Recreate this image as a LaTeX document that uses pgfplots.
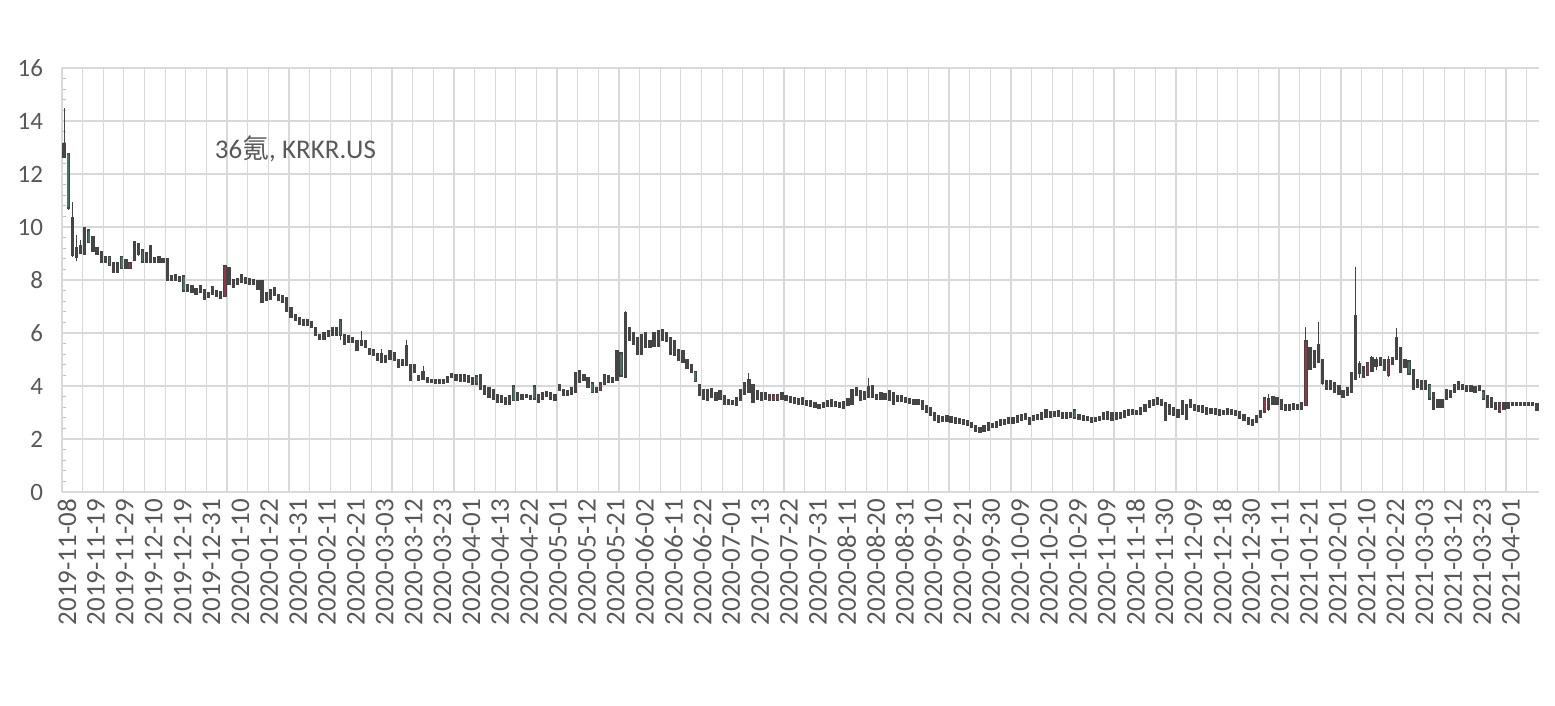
\documentclass[border=0pt]{standalone}
\usepackage{fontspec}
\setmainfont{Carlito}
\newfontfamily\cjk{Noto Sans CJK SC}
\usepackage{pgfplots}
\usepackage{pgfplotstable}
\pgfplotsset{compat=1.18}
\definecolor{labelgray}{HTML}{595959}
\definecolor{gridc}{HTML}{D9D9D9}
\definecolor{tickc}{HTML}{BFBFBF}
\definecolor{outc}{HTML}{454545}
\definecolor{greenfill}{HTML}{4A7561}
\definecolor{redfill}{HTML}{8E3A46}
% candles: for each day x, rows (low, body bottom), (high, body top), break
\pgfplotstableread{
x w b
0 12.6 12.65
0 14.5 13.1
0 nan nan
1 10.65 10.75
1 12.8 12.74
1 nan nan
2 8.88 8.95
2 10.95 10.3
2 nan nan
3 8.7 8.9
3 9.7 9.2
3 nan nan
4 9.0 9.04
4 9.5 9.26
4 nan nan
5 8.97 9.0
5 9.97 9.95
5 nan nan
6 9.4 9.44
6 9.9 9.85
6 nan nan
7 9.05 9.1
7 9.65 9.6
7 nan nan
8 8.98 9.02
8 9.25 9.2
8 nan nan
9 8.68 8.72
9 9.1 9.05
9 nan nan
10 8.68 8.72
10 8.9 8.86
10 nan nan
11 8.55 8.58
11 8.9 8.86
11 nan nan
12 8.3 8.33
12 8.65 8.6
12 nan nan
13 8.28 8.31
13 8.65 8.6
13 nan nan
14 8.42 8.46
14 8.92 8.86
14 nan nan
15 8.42 8.46
15 8.78 8.74
15 nan nan
16 8.42 8.46
16 8.65 8.62
16 nan nan
17 8.72 8.78
17 9.45 9.4
17 nan nan
18 8.9 9.0
18 9.38 9.34
18 nan nan
19 8.66 8.7
19 9.15 9.1
19 nan nan
20 8.67 8.7
20 9.02 8.98
20 nan nan
21 8.67 8.7
21 9.3 9.25
21 nan nan
22 8.67 8.7
22 8.84 8.8
22 nan nan
23 8.66 8.69
23 8.87 8.84
23 nan nan
24 8.67 8.7
24 8.8 8.78
24 nan nan
25 8.0 8.04
25 8.8 8.76
25 nan nan
26 7.98 8.01
26 8.14 8.12
26 nan nan
27 7.98 8.01
27 8.2 8.17
27 nan nan
28 7.94 7.97
28 8.12 8.1
28 nan nan
29 7.58 7.62
29 8.15 8.12
29 nan nan
30 7.58 7.62
30 7.83 7.8
30 nan nan
31 7.54 7.57
31 7.78 7.74
31 nan nan
32 7.48 7.51
32 7.64 7.62
32 nan nan
33 7.54 7.57
33 7.78 7.74
33 nan nan
34 7.29 7.32
34 7.64 7.6
34 nan nan
35 7.35 7.38
35 7.52 7.49
35 nan nan
36 7.48 7.51
36 7.73 7.7
36 nan nan
37 7.38 7.41
37 7.58 7.55
37 nan nan
38 7.33 7.36
38 7.54 7.51
38 nan nan
39 7.38 7.41
39 8.52 8.5
39 nan nan
40 7.85 7.88
40 8.48 8.44
40 nan nan
41 7.73 7.76
41 8.02 7.99
41 nan nan
42 7.85 7.88
42 8.04 8.01
42 nan nan
43 7.92 7.95
43 8.21 8.18
43 nan nan
44 7.88 7.91
44 8.08 8.05
44 nan nan
45 7.85 7.88
45 8.04 8.01
45 nan nan
46 7.83 7.86
46 7.99 7.96
46 nan nan
47 7.67 7.7
47 7.96 7.93
47 nan nan
48 7.16 7.19
48 7.96 7.93
48 nan nan
49 7.22 7.25
49 7.52 7.49
49 nan nan
50 7.29 7.32
50 7.64 7.61
50 nan nan
51 7.41 7.44
51 7.71 7.68
51 nan nan
52 7.22 7.25
52 7.45 7.42
52 nan nan
53 7.16 7.19
53 7.39 7.36
53 nan nan
54 6.84 6.87
54 7.33 7.3
54 nan nan
55 6.58 6.61
55 6.94 6.91
55 nan nan
56 6.47 6.5
56 6.69 6.66
56 nan nan
57 6.34 6.37
57 6.57 6.54
57 nan nan
58 6.28 6.31
58 6.51 6.48
58 nan nan
59 6.28 6.31
59 6.51 6.48
59 nan nan
60 6.22 6.25
60 6.44 6.41
60 nan nan
61 5.9 5.93
61 6.19 6.16
61 nan nan
62 5.78 5.81
62 5.94 5.91
62 nan nan
63 5.78 5.81
63 6.01 5.98
63 nan nan
64 5.87 5.9
64 6.07 6.04
64 nan nan
65 5.9 5.93
65 6.19 6.16
65 nan nan
66 5.9 5.93
66 6.19 6.16
66 nan nan
67 5.75 5.93
67 6.48 6.45
67 nan nan
68 5.59 5.62
68 5.94 5.91
68 nan nan
69 5.65 5.68
69 5.88 5.85
69 nan nan
70 5.65 5.68
70 5.82 5.79
70 nan nan
71 5.34 5.37
71 5.69 5.66
71 nan nan
72 5.53 5.56
72 6.07 5.66
72 nan nan
73 5.46 5.49
73 5.69 5.66
73 nan nan
74 5.21 5.24
74 5.4 5.37
74 nan nan
75 5.15 5.18
75 5.38 5.35
75 nan nan
76 4.99 5.02
76 5.23 5.2
76 nan nan
77 4.9 4.93
77 5.38 5.2
77 nan nan
78 4.9 4.93
78 5.13 5.1
78 nan nan
79 5.02 5.05
79 5.31 5.28
79 nan nan
80 4.96 4.99
80 5.25 5.22
80 nan nan
81 4.71 4.74
81 5.0 4.97
81 nan nan
82 4.77 4.8
82 5.0 4.97
82 nan nan
83 4.77 4.8
83 5.75 5.5
83 nan nan
84 4.21 4.24
84 4.81 4.78
84 nan nan
85 4.52 4.55
85 4.81 4.78
85 nan nan
86 4.21 4.24
86 4.38 4.35
86 nan nan
87 4.27 4.3
87 4.75 4.5
87 nan nan
88 4.14 4.17
88 4.31 4.28
88 nan nan
89 4.14 4.17
89 4.25 4.22
89 nan nan
90 4.12 4.15
90 4.21 4.19
90 nan nan
91 4.12 4.15
91 4.21 4.19
91 nan nan
92 4.12 4.15
92 4.25 4.22
92 nan nan
93 4.14 4.17
93 4.33 4.3
93 nan nan
94 4.33 4.36
94 4.46 4.43
94 nan nan
95 4.21 4.24
95 4.41 4.38
95 nan nan
96 4.19 4.22
96 4.41 4.38
96 nan nan
97 4.17 4.2
97 4.41 4.38
97 nan nan
98 4.14 4.17
98 4.37 4.34
98 nan nan
99 4.08 4.11
99 4.31 4.28
99 nan nan
100 4.08 4.11
100 4.37 4.34
100 nan nan
101 3.89 3.92
101 4.43 4.4
101 nan nan
102 3.7 3.73
102 3.99 3.96
102 nan nan
103 3.58 3.61
103 3.93 3.9
103 nan nan
104 3.52 3.55
104 3.87 3.84
104 nan nan
105 3.39 3.42
105 3.66 3.63
105 nan nan
106 3.39 3.42
106 3.62 3.59
106 nan nan
107 3.33 3.36
107 3.56 3.53
107 nan nan
108 3.33 3.36
108 3.62 3.59
108 nan nan
109 3.45 3.48
109 3.99 3.96
109 nan nan
110 3.45 3.48
110 3.74 3.71
110 nan nan
111 3.52 3.55
111 3.68 3.65
111 nan nan
112 3.56 3.59
112 3.68 3.65
112 nan nan
113 3.52 3.55
113 3.62 3.59
113 nan nan
114 3.52 3.55
114 3.99 3.96
114 nan nan
115 3.39 3.42
115 3.68 3.65
115 nan nan
116 3.52 3.55
116 3.74 3.71
116 nan nan
117 3.6 3.63
117 3.78 3.75
117 nan nan
118 3.52 3.55
118 3.74 3.71
118 nan nan
119 3.45 3.48
119 3.68 3.65
119 nan nan
120 3.83 3.86
120 4.06 4.03
120 nan nan
121 3.64 3.67
121 3.87 3.84
121 nan nan
122 3.64 3.67
122 3.82 3.79
122 nan nan
123 3.7 3.73
123 3.93 3.9
123 nan nan
124 3.76 3.79
124 4.5 4.47
124 nan nan
125 4.14 4.17
125 4.57 4.54
125 nan nan
126 4.21 4.24
126 4.44 4.41
126 nan nan
127 3.95 3.98
127 4.31 4.28
127 nan nan
128 3.76 3.79
128 4.12 4.09
128 nan nan
129 3.76 3.79
129 3.93 3.9
129 nan nan
130 3.83 3.86
130 4.12 4.09
130 nan nan
131 4.08 4.11
131 4.44 4.41
131 nan nan
132 4.14 4.17
132 4.37 4.34
132 nan nan
133 4.14 4.17
133 4.31 4.28
133 nan nan
134 4.21 4.24
134 5.31 5.28
134 nan nan
135 4.38 4.41
135 5.25 5.22
135 nan nan
136 4.33 4.36
136 6.82 6.75
136 nan nan
137 5.71 5.74
137 6.19 6.16
137 nan nan
138 5.59 5.62
138 6.01 5.98
138 nan nan
139 5.21 5.24
139 5.82 5.79
139 nan nan
140 5.21 5.24
140 5.94 5.91
140 nan nan
141 5.46 5.49
141 6.01 5.98
141 nan nan
142 5.46 5.49
142 5.69 5.66
142 nan nan
143 5.52 5.55
143 6.01 5.98
143 nan nan
144 5.52 5.55
144 6.07 6.04
144 nan nan
145 5.71 5.74
145 6.13 6.1
145 nan nan
146 5.68 5.71
146 6.02 5.99
146 nan nan
147 5.21 5.24
147 5.82 5.79
147 nan nan
148 5.15 5.18
148 5.69 5.66
148 nan nan
149 4.96 4.99
149 5.38 5.35
149 nan nan
150 4.9 4.93
150 5.31 5.28
150 nan nan
151 4.68 4.71
151 5.0 4.97
151 nan nan
152 4.52 4.55
152 4.81 4.78
152 nan nan
153 4.17 4.2
153 4.54 4.51
153 nan nan
154 3.64 3.67
154 4.03 4.0
154 nan nan
155 3.51 3.54
155 3.87 3.84
155 nan nan
156 3.45 3.48
156 3.87 3.84
156 nan nan
157 3.58 3.61
157 3.91 3.88
157 nan nan
158 3.45 3.48
158 3.74 3.71
158 nan nan
159 3.51 3.54
159 3.81 3.78
159 nan nan
160 3.33 3.36
160 3.62 3.59
160 nan nan
161 3.33 3.36
161 3.49 3.46
161 nan nan
162 3.33 3.36
162 3.45 3.42
162 nan nan
163 3.26 3.29
163 3.55 3.52
163 nan nan
164 3.45 3.48
164 3.87 3.84
164 nan nan
165 3.7 3.73
165 4.12 4.09
165 nan nan
166 3.77 3.8
166 4.5 4.2
166 nan nan
167 3.39 3.42
167 4.06 4.03
167 nan nan
168 3.51 3.54
168 3.81 3.78
168 nan nan
169 3.45 3.48
169 3.74 3.71
169 nan nan
170 3.51 3.54
170 3.74 3.71
170 nan nan
171 3.45 3.48
171 3.68 3.65
171 nan nan
172 3.45 3.48
172 3.66 3.63
172 nan nan
173 3.45 3.48
173 3.68 3.65
173 nan nan
174 3.51 3.54
174 3.74 3.71
174 nan nan
175 3.45 3.48
175 3.62 3.59
175 nan nan
176 3.39 3.42
176 3.58 3.55
176 nan nan
177 3.36 3.39
177 3.55 3.52
177 nan nan
178 3.33 3.36
178 3.53 3.5
178 nan nan
179 3.33 3.36
179 3.55 3.52
179 nan nan
180 3.26 3.29
180 3.45 3.42
180 nan nan
181 3.23 3.26
181 3.43 3.4
181 nan nan
182 3.2 3.23
182 3.37 3.34
182 nan nan
183 3.17 3.2
183 3.3 3.27
183 nan nan
184 3.2 3.23
184 3.37 3.34
184 nan nan
185 3.23 3.26
185 3.43 3.4
185 nan nan
186 3.23 3.26
186 3.47 3.44
186 nan nan
187 3.23 3.26
187 3.39 3.36
187 nan nan
188 3.2 3.23
188 3.37 3.34
188 nan nan
189 3.17 3.2
189 3.39 3.36
189 nan nan
190 3.26 3.29
190 3.51 3.48
190 nan nan
191 3.33 3.36
191 3.84 3.81
191 nan nan
192 3.64 3.67
192 3.93 3.9
192 nan nan
193 3.45 3.48
193 3.8 3.77
193 nan nan
194 3.51 3.54
194 3.77 3.74
194 nan nan
195 3.58 3.61
195 4.32 3.95
195 nan nan
196 3.58 3.61
196 3.99 3.96
196 nan nan
197 3.51 3.54
197 3.68 3.65
197 nan nan
198 3.51 3.54
198 3.74 3.71
198 nan nan
199 3.51 3.54
199 3.72 3.69
199 nan nan
200 3.47 3.5
200 3.8 3.77
200 nan nan
201 3.33 3.36
201 3.74 3.71
201 nan nan
202 3.43 3.46
202 3.62 3.59
202 nan nan
203 3.43 3.46
203 3.62 3.59
203 nan nan
204 3.39 3.42
204 3.55 3.52
204 nan nan
205 3.36 3.39
205 3.51 3.48
205 nan nan
206 3.33 3.36
206 3.49 3.46
206 nan nan
207 3.33 3.36
207 3.49 3.46
207 nan nan
208 3.14 3.17
208 3.43 3.4
208 nan nan
209 3.01 3.04
209 3.24 3.21
209 nan nan
210 2.89 2.92
210 3.18 3.15
210 nan nan
211 2.72 2.75
211 2.97 2.94
211 nan nan
212 2.63 2.66
212 2.86 2.83
212 nan nan
213 2.66 2.69
213 2.83 2.8
213 nan nan
214 2.66 2.69
214 2.86 2.83
214 nan nan
215 2.63 2.66
215 2.83 2.8
215 nan nan
216 2.59 2.62
216 2.8 2.77
216 nan nan
217 2.59 2.62
217 2.76 2.73
217 nan nan
218 2.57 2.6
218 2.74 2.71
218 nan nan
219 2.51 2.54
219 2.67 2.64
219 nan nan
220 2.45 2.48
220 2.61 2.58
220 nan nan
221 2.29 2.32
221 2.51 2.48
221 nan nan
222 2.26 2.29
222 2.42 2.39
222 nan nan
223 2.29 2.32
223 2.49 2.46
223 nan nan
224 2.34 2.37
224 2.61 2.58
224 nan nan
225 2.43 2.46
225 2.57 2.54
225 nan nan
226 2.45 2.48
226 2.64 2.61
226 nan nan
227 2.51 2.54
227 2.71 2.68
227 nan nan
228 2.55 2.58
228 2.74 2.71
228 nan nan
229 2.59 2.62
229 2.8 2.77
229 nan nan
230 2.59 2.62
230 2.8 2.77
230 nan nan
231 2.63 2.66
231 2.86 2.83
231 nan nan
232 2.7 2.73
232 2.93 2.9
232 nan nan
233 2.76 2.79
233 2.96 2.93
233 nan nan
234 2.57 2.6
234 2.8 2.77
234 nan nan
235 2.72 2.75
235 2.89 2.86
235 nan nan
236 2.76 2.79
236 2.93 2.9
236 nan nan
237 2.76 2.79
237 2.99 2.96
237 nan nan
238 2.82 2.85
238 3.11 3.08
238 nan nan
239 2.82 2.85
239 3.01 2.98
239 nan nan
240 2.86 2.89
240 3.04 3.01
240 nan nan
241 2.85 2.88
241 3.05 3.02
241 nan nan
242 2.8 2.83
242 2.99 2.96
242 nan nan
243 2.8 2.83
243 2.97 2.94
243 nan nan
244 2.82 2.85
244 3.0 2.97
244 nan nan
245 2.8 2.83
245 3.09 3.06
245 nan nan
246 2.76 2.79
246 2.93 2.9
246 nan nan
247 2.72 2.75
247 2.86 2.83
247 nan nan
248 2.7 2.73
248 2.84 2.81
248 nan nan
249 2.63 2.66
249 2.8 2.77
249 nan nan
250 2.68 2.71
250 2.8 2.77
250 nan nan
251 2.7 2.73
251 2.84 2.81
251 nan nan
252 2.76 2.79
252 2.99 2.96
252 nan nan
253 2.76 2.79
253 3.01 2.98
253 nan nan
254 2.72 2.75
254 2.97 2.94
254 nan nan
255 2.76 2.79
255 2.97 2.94
255 nan nan
256 2.8 2.83
256 2.99 2.96
256 nan nan
257 2.82 2.85
257 3.05 3.02
257 nan nan
258 2.89 2.92
258 3.09 3.06
258 nan nan
259 2.92 2.95
259 3.11 3.08
259 nan nan
260 2.92 2.95
260 3.05 3.02
260 nan nan
261 2.95 2.98
261 3.18 3.15
261 nan nan
262 3.05 3.08
262 3.3 3.27
262 nan nan
263 3.2 3.23
263 3.43 3.4
263 nan nan
264 3.26 3.29
264 3.49 3.46
264 nan nan
265 3.33 3.36
265 3.55 3.52
265 nan nan
266 3.26 3.29
266 3.49 3.46
266 nan nan
267 2.7 2.73
267 3.36 3.33
267 nan nan
268 2.95 2.98
268 3.3 3.27
268 nan nan
269 2.89 2.92
269 3.16 3.13
269 nan nan
270 2.82 2.85
270 3.11 3.08
270 nan nan
271 2.95 2.98
271 3.43 3.4
271 nan nan
272 2.73 2.76
272 3.28 3.25
272 nan nan
273 3.2 3.23
273 3.47 3.44
273 nan nan
274 3.07 3.1
274 3.3 3.27
274 nan nan
275 3.05 3.08
275 3.27 3.24
275 nan nan
276 3.01 3.04
276 3.24 3.21
276 nan nan
277 2.95 2.98
277 3.18 3.15
277 nan nan
278 2.97 3.0
278 3.14 3.11
278 nan nan
279 2.95 2.98
279 3.14 3.11
279 nan nan
280 2.89 2.92
280 3.11 3.08
280 nan nan
281 2.92 2.95
281 3.08 3.05
281 nan nan
282 2.95 2.98
282 3.14 3.11
282 nan nan
283 2.92 2.95
283 3.11 3.08
283 nan nan
284 2.89 2.92
284 3.08 3.05
284 nan nan
285 2.8 2.83
285 3.02 2.99
285 nan nan
286 2.7 2.73
286 2.93 2.9
286 nan nan
287 2.57 2.6
287 2.8 2.77
287 nan nan
288 2.51 2.54
288 2.74 2.71
288 nan nan
289 2.63 2.66
289 2.86 2.83
289 nan nan
290 2.82 2.85
290 3.05 3.02
290 nan nan
291 3.01 3.04
291 3.55 3.52
291 nan nan
292 3.07 3.17
292 3.68 3.47
292 nan nan
293 3.33 3.36
293 3.59 3.56
293 nan nan
294 3.33 3.36
294 3.55 3.52
294 nan nan
295 3.14 3.17
295 3.49 3.46
295 nan nan
296 3.07 3.1
296 3.3 3.27
296 nan nan
297 3.07 3.1
297 3.3 3.27
297 nan nan
298 3.11 3.14
298 3.33 3.3
298 nan nan
299 3.11 3.14
299 3.3 3.27
299 nan nan
300 3.14 3.17
300 3.36 3.33
300 nan nan
301 3.26 3.29
301 6.24 5.67
301 nan nan
302 4.62 4.66
302 5.45 5.41
302 nan nan
303 4.7 4.73
303 5.32 5.29
303 nan nan
304 4.9 4.93
304 6.43 5.54
304 nan nan
305 4.05 4.12
305 5.0 4.97
305 nan nan
306 3.89 3.92
306 4.18 4.15
306 nan nan
307 3.89 3.92
307 4.18 4.15
307 nan nan
308 3.76 3.79
308 4.12 4.09
308 nan nan
309 3.7 3.73
309 3.99 3.96
309 nan nan
310 3.57 3.6
310 3.8 3.77
310 nan nan
311 3.64 3.67
311 3.93 3.9
311 nan nan
312 3.76 3.79
312 4.5 4.47
312 nan nan
313 4.27 4.3
313 8.5 6.62
313 nan nan
314 4.3 4.5
314 4.95 4.82
314 nan nan
315 4.33 4.36
315 4.72 4.69
315 nan nan
316 4.4 4.43
316 4.88 4.85
316 nan nan
317 4.55 4.6
317 5.15 5.03
317 nan nan
318 4.6 4.79
318 5.1 4.97
318 nan nan
319 4.77 4.8
319 5.06 5.03
319 nan nan
320 4.58 4.61
320 5.0 4.97
320 nan nan
321 4.35 4.43
321 5.15 4.97
321 nan nan
322 4.84 4.87
322 5.06 5.03
322 nan nan
323 5.02 5.05
323 6.18 5.8
323 nan nan
324 4.52 4.55
324 5.44 5.41
324 nan nan
325 4.71 4.74
325 5.0 4.97
325 nan nan
326 4.46 4.49
326 4.94 4.91
326 nan nan
327 3.89 3.92
327 4.62 4.59
327 nan nan
328 3.95 3.98
328 4.25 4.22
328 nan nan
329 3.89 3.92
329 4.21 4.18
329 nan nan
330 3.89 3.92
330 4.21 4.18
330 nan nan
331 3.52 3.55
331 4.06 4.03
331 nan nan
332 3.14 3.17
332 3.74 3.71
332 nan nan
333 3.2 3.23
333 3.49 3.46
333 nan nan
334 3.2 3.23
334 3.49 3.46
334 nan nan
335 3.51 3.54
335 3.87 3.84
335 nan nan
336 3.58 3.61
336 3.81 3.78
336 nan nan
337 3.77 3.8
337 4.06 4.03
337 nan nan
338 3.89 3.92
338 4.15 4.12
338 nan nan
339 3.89 3.92
339 4.06 4.03
339 nan nan
340 3.8 3.83
340 3.99 3.96
340 nan nan
341 3.8 3.83
341 3.99 3.96
341 nan nan
342 3.77 3.8
342 3.96 3.93
342 nan nan
343 3.83 3.86
343 3.99 3.96
343 nan nan
344 3.51 3.54
344 3.81 3.78
344 nan nan
345 3.2 3.23
345 3.62 3.59
345 nan nan
346 3.2 3.23
346 3.55 3.52
346 nan nan
347 3.14 3.17
347 3.37 3.34
347 nan nan
348 3.01 3.04
348 3.37 3.34
348 nan nan
349 3.14 3.17
349 3.37 3.34
349 nan nan
350 3.17 3.2
350 3.37 3.34
350 nan nan
351 3.26 3.29
351 3.37 3.34
351 nan nan
352 3.26 3.29
352 3.37 3.34
352 nan nan
353 3.26 3.29
353 3.37 3.34
353 nan nan
354 3.29 3.32
354 3.37 3.34
354 nan nan
355 3.29 3.31
355 3.36 3.33
355 nan nan
356 3.26 3.29
356 3.37 3.34
356 nan nan
357 3.07 3.1
357 3.33 3.3
357 nan nan
}\candles
\begin{document}
\begin{tikzpicture}
\path[use as bounding box] (0,0) rectangle (777.5pt,353pt);
\begin{axis}[
  at={(31pt,107pt)}, anchor=south west,
  scale only axis, width=738.5pt, height=212pt,
  xmin=-0.5, xmax=357.5, ymin=0, ymax=16,
  axis lines*=left,
  axis line style={draw=gridc, line width=0.6pt},
  ytick={0,2,...,16},
  minor y tick num=4,
  ymajorgrids,
  major grid style={draw=gridc, line width=0.6pt},
  xtick={0,7,...,350},
  xticklabels={2019-11-08,2019-11-19,2019-11-29,2019-12-10,2019-12-19,2019-12-31,2020-01-10,2020-01-22,2020-01-31,2020-02-11,2020-02-21,2020-03-03,2020-03-12,2020-03-23,2020-04-01,2020-04-13,2020-04-22,2020-05-01,2020-05-12,2020-05-21,2020-06-02,2020-06-11,2020-06-22,2020-07-01,2020-07-13,2020-07-22,2020-07-31,2020-08-11,2020-08-20,2020-08-31,2020-09-10,2020-09-21,2020-09-30,2020-10-09,2020-10-20,2020-10-29,2020-11-09,2020-11-18,2020-11-30,2020-12-09,2020-12-18,2020-12-30,2021-01-11,2021-01-21,2021-02-01,2021-02-10,2021-02-22,2021-03-03,2021-03-12,2021-03-23,2021-04-01},
  minor xtick={-0.5,4.5,...,354.5},
  xminorgrids,
  minor grid style={draw=gridc, line width=0.6pt},
  x tick style={draw=none},
  y tick style={draw=tickc, line width=0.5pt},
  major tick length=0pt,
  minor tick length=1.8pt,
  ytick align=inside,
  /pgf/number format/assume math mode=true,
  ticklabel style={text=labelgray},
  yticklabel style={font=\fontsize{12.5}{14}\selectfont, xshift=-6pt},
  xticklabel style={font=\fontsize{13.5}{15}\selectfont, rotate=90, anchor=east, yshift=-1.5pt},
  unbounded coords=jump,
  clip=false,
]
\addplot[draw=outc, line width=0.5pt, mark=none, line cap=butt] table[x=x, y=w] {\candles};
\addplot[draw=outc, line width=1.6pt, mark=none, line cap=rect] table[x=x, y=b] {\candles};
\addplot[draw=greenfill, line width=0.9pt, mark=none, line cap=butt] coordinates {
(1,10.75)(1,12.74)(1,nan) (6,9.44)(6,9.85)(6,nan) (11,8.58)(11,8.86)(11,nan)
(14,8.46)(14,8.86)(14,nan) (19,8.7)(19,9.1)(19,nan) (29,7.62)(29,8.12)(29,nan)
(67,5.93)(67,6.45)(67,nan) (100,4.11)(100,4.34)(100,nan) (109,3.48)(109,3.96)(109,nan)
(114,3.55)(114,3.96)(114,nan) (128,3.79)(128,4.09)(128,nan) (135,4.41)(135,5.22)(135,nan)
(153,4.2)(153,4.51)(153,nan) (245,2.83)(245,3.06)(245,nan) (326,4.49)(326,4.91)(326,nan)
(331,3.55)(331,4.03)(331,nan) (344,3.54)(344,3.78)(344,nan)};
\addplot[draw=redfill, line width=0.9pt, mark=none, line cap=butt] coordinates {
(16,8.46)(16,8.62)(16,nan) (39,7.41)(39,8.5)(39,nan) (130,3.86)(130,4.09)(130,nan)
(171,3.48)(171,3.65)(171,nan) (172,3.48)(172,3.63)(172,nan) (173,3.48)(173,3.65)(173,nan)
(291,3.04)(291,3.52)(291,nan) (301,3.29)(301,5.67)(301,nan) (316,4.43)(316,4.85)(316,nan)
(321,4.43)(321,4.97)(321,nan) (348,3.04)(348,3.34)(348,nan)};
\node[font=\fontsize{13.5}{15}\selectfont, text=labelgray] at (rel axis cs:0.158,0.809) {36{\cjk 氪}, KRKR.US};
\end{axis}
\end{tikzpicture}
\end{document}
